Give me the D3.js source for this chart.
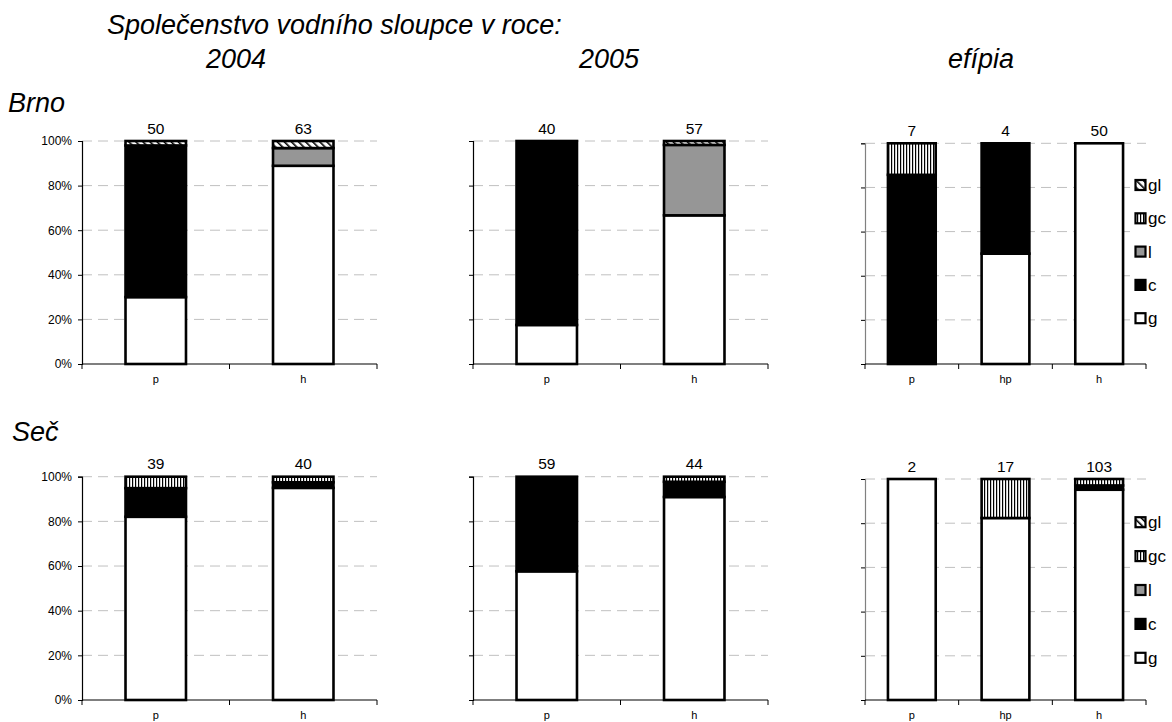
<!DOCTYPE html>
<html>
<head>
<meta charset="utf-8">
<script src="https://cdn.jsdelivr.net/npm/d3@7"></script>
<style>
  html, body { margin: 0; padding: 0; background: #fff; }
  svg { display: block; font-family: "Liberation Sans", Arial, sans-serif; }
</style>
</head>
<body>
<svg id="chart" width="1172" height="722"></svg>
<script>
// Stack order from bottom to top, and legend order from top to bottom
const seriesKeys = ["g", "c", "l", "gc", "gl"];
const legendKeys = ["gl", "gc", "l", "c", "g"];

// Headings
const titleText = "Společenstvo vodního sloupce v roce:";
const columnTitles = ["2004", "2005", "efípia"];
const rowTitles = ["Brno", "Seč"];
const yTicks = [0, 0.2, 0.4, 0.6, 0.8, 1];

// Counts per category (g, c, l, gc, gl)
const brno2004 = [
  { cat: "p", g: 15, c: 34, l: 0,  gc: 0, gl: 1 },
  { cat: "h", g: 56, c: 0,  l: 5,  gc: 0, gl: 2 }
];
const brno2005 = [
  { cat: "p", g: 7,  c: 33, l: 0,  gc: 0, gl: 0 },
  { cat: "h", g: 38, c: 0,  l: 18, gc: 0, gl: 1 }
];
const brnoEfipia = [
  { cat: "p",  g: 0,  c: 6, l: 0, gc: 1, gl: 0 },
  { cat: "hp", g: 2,  c: 2, l: 0, gc: 0, gl: 0 },
  { cat: "h",  g: 50, c: 0, l: 0, gc: 0, gl: 0 }
];
const sec2004 = [
  { cat: "p", g: 32, c: 5, l: 0, gc: 2, gl: 0 },
  { cat: "h", g: 38, c: 1, l: 0, gc: 1, gl: 0 }
];
const sec2005 = [
  { cat: "p", g: 34, c: 25, l: 0, gc: 0, gl: 0 },
  { cat: "h", g: 40, c: 3,  l: 0, gc: 1, gl: 0 }
];
const secEfipia = [
  { cat: "p",  g: 2,  c: 0, l: 0, gc: 0, gl: 0 },
  { cat: "hp", g: 14, c: 0, l: 0, gc: 3, gl: 0 },
  { cat: "h",  g: 98, c: 2, l: 0, gc: 3, gl: 0 }
];

const panelData = [
  [brno2004, brno2005, brnoEfipia],
  [sec2004, sec2005, secEfipia]
];

// Layout of the 2x3 grid
const colLayout = [
  { x0: 82,  x1: 377,  barRatio: 0.41, labels: true,  axisColor: "#000",    titleX: 236 },
  { x0: 473, x1: 768,  barRatio: 0.41, labels: false, axisColor: "#000",    titleX: 609 },
  { x0: 865, x1: 1146, barRatio: 0.51, labels: false, axisColor: "#808080", titleX: 981 }
];
const rowLayout = [
  { yTop: [141, 141, 143.3], yBottom: 364, titleX: 8,  titleY: 112 },
  { yTop: [476.7, 476.7, 479], yBottom: 700, titleX: 12, titleY: 441 }
];

const svg = d3.select("#chart");
const defs = svg.append("defs");

// Fill patterns
const pGc = defs.append("pattern").attr("id", "pat-gc")
  .attr("patternUnits", "userSpaceOnUse").attr("width", 3).attr("height", 6);
pGc.append("rect").attr("width", 3).attr("height", 6).attr("fill", "#fff");
pGc.append("rect").attr("x", 0).attr("width", 1.2).attr("height", 6).attr("fill", "#000");

const pGl = defs.append("pattern").attr("id", "pat-gl")
  .attr("patternUnits", "userSpaceOnUse").attr("width", 5).attr("height", 5)
  .attr("patternTransform", "rotate(-45)");
pGl.append("rect").attr("width", 5).attr("height", 5).attr("fill", "#fff");
pGl.append("rect").attr("x", 0).attr("width", 1.6).attr("height", 5).attr("fill", "#000");

const fills = { g: "#ffffff", c: "#000000", l: "#969696", gc: "url(#pat-gc)", gl: "url(#pat-gl)" };

// Headings
svg.append("text").attr("x", 107).attr("y", 34)
  .attr("font-size", 27).attr("font-style", "italic").text(titleText);
columnTitles.forEach((t, i) => {
  svg.append("text").attr("x", colLayout[i].titleX).attr("y", 68)
    .attr("text-anchor", "middle").attr("font-size", 27).attr("font-style", "italic").text(t);
});
rowTitles.forEach((t, i) => {
  svg.append("text").attr("x", rowLayout[i].titleX).attr("y", rowLayout[i].titleY)
    .attr("font-size", 27).attr("font-style", "italic").text(t);
});

const stack = d3.stack().keys(seriesKeys);

panelData.forEach((rowData, ri) => {
  const row = rowLayout[ri];
  rowData.forEach((data, ci) => {
    const col = colLayout[ci];
    const g = svg.append("g");

    const x = d3.scaleBand().domain(data.map(d => d.cat)).range([col.x0, col.x1]).padding(0);
    const y = d3.scaleLinear().domain([0, 1]).range([row.yBottom, row.yTop[ci]]);

    // normalise to shares of each category's total
    const totals = data.map(d => d3.sum(seriesKeys, k => d[k]));
    const shares = data.map((d, i) => {
      const o = { cat: d.cat };
      seriesKeys.forEach(k => o[k] = d[k] / totals[i]);
      return o;
    });

    // dashed gridlines
    g.append("g").selectAll("line").data(yTicks.filter(v => v > 0)).join("line")
      .attr("x1", col.x0).attr("x2", col.x1)
      .attr("y1", d => y(d)).attr("y2", d => y(d))
      .attr("stroke", "#c0c0c0").attr("stroke-width", 1).attr("stroke-dasharray", "10,6");

    // y axis
    const yAxis = d3.axisLeft(y).tickValues(yTicks).tickSize(4)
      .tickFormat(col.labels ? d3.format(".0%") : "");
    const ya = g.append("g").attr("transform", `translate(${col.x0},0)`).call(yAxis);
    ya.select(".domain").attr("stroke", col.axisColor).attr("stroke-width", 1.2);
    ya.selectAll(".tick line").attr("stroke", "#000");
    ya.selectAll(".tick text").attr("font-size", 12).attr("fill", "#000")
      .attr("font-family", "'Liberation Sans', Arial, sans-serif").attr("dx", -3);

    // x axis with ticks between categories
    const xa = g.append("g").attr("transform", `translate(0,${row.yBottom})`);
    xa.append("line").attr("x1", col.x0).attr("x2", col.x1).attr("y1", 0).attr("y2", 0)
      .attr("stroke", "#000").attr("stroke-width", 1.2);
    const bounds = data.map(d => x(d.cat)).concat([x(data[data.length - 1].cat) + x.bandwidth()]);
    xa.selectAll("line.tk").data(bounds).join("line").attr("class", "tk")
      .attr("x1", d => d).attr("x2", d => d).attr("y1", 0).attr("y2", 5)
      .attr("stroke", "#000").attr("stroke-width", 1);
    xa.selectAll("text").data(data).join("text")
      .attr("x", d => x(d.cat) + x.bandwidth() / 2).attr("y", 19)
      .attr("text-anchor", "middle").attr("font-size", 11).text(d => d.cat);

    // stacked bars
    const bw = x.bandwidth() * col.barRatio;
    const layers = stack(shares);
    layers.forEach(layer => {
      g.append("g").selectAll("rect").data(layer.filter(s => s[1] - s[0] > 0)).join("rect")
        .attr("x", s => x(s.data.cat) + (x.bandwidth() - bw) / 2)
        .attr("width", bw)
        .attr("y", s => y(s[1]))
        .attr("height", s => y(s[0]) - y(s[1]))
        .attr("fill", fills[layer.key])
        .attr("stroke", "#000").attr("stroke-width", 2.6);
    });

    // sample sizes above bars
    g.append("g").selectAll("text").data(data).join("text")
      .attr("x", d => x(d.cat) + x.bandwidth() / 2)
      .attr("y", y(1) - 7.5)
      .attr("text-anchor", "middle").attr("font-size", 15.5)
      .text((d, i) => totals[i]);

    // legend on the right-hand panel
    if (ci === 2) {
      const ly0 = ri === 0 ? 184.5 : 521.7;
      const step = ri === 0 ? 33.3 : 33.9;
      const lg = g.append("g");
      lg.append("rect").attr("x", 1130).attr("y", ly0 - 15).attr("width", 42)
        .attr("height", step * 4 + 30).attr("fill", "#fff");
      legendKeys.forEach((k, i) => {
        const cy = ly0 + i * step;
        lg.append("rect").attr("x", 1135.5).attr("y", cy - 4.5).attr("width", 10).attr("height", 10)
          .attr("fill", fills[k]).attr("stroke", "#000").attr("stroke-width", 2.2);
        lg.append("text").attr("x", 1148).attr("y", cy + 6.5)
          .attr("font-size", 17).text(k);
      });
    }
  });
});
</script>
</body>
</html>
